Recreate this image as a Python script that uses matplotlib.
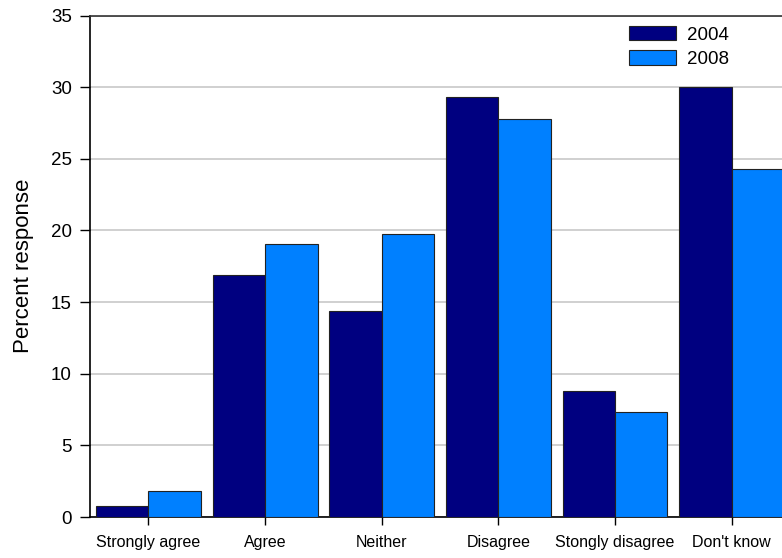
import numpy as np
import matplotlib
matplotlib.use("Agg")
import matplotlib.pyplot as plt

plt.rcParams['font.family'] = ['Liberation Sans', 'DejaVu Sans']

# data
categories = ["Strongly agree", "Agree", "Neither", "Disagree", "Stongly disagree", "Don't know"]
years = ["2004", "2008"]
vals_2004 = [0.75, 16.9, 14.4, 29.3, 8.8, 30.0]
vals_2008 = [1.8, 19.05, 19.75, 27.8, 7.35, 24.3]
y_ticks = [0, 5, 10, 15, 20, 25, 30, 35]

colors = ["#000080", "#0080ff"]

W, H = 782, 558
fig = plt.figure(figsize=(W / 100, H / 100), dpi=100)
# axes runs a bit past the right edge of the picture, like the original
ax = fig.add_axes([90 / W, (H - 517) / H, 700 / W, (517 - 15.5) / H])

x = np.arange(len(categories))
bw = 0.45
ax.bar(x - bw / 2, vals_2004, bw, color=colors[0], edgecolor="#222222",
       linewidth=0.8, label=years[0], zorder=3)
ax.bar(x + bw / 2, vals_2008, bw, color=colors[1], edgecolor="#222222",
       linewidth=0.8, label=years[1], zorder=3)

ax.set_xlim(-0.5, 5.5)
ax.set_ylim(0, 35)
ax.set_yticks(y_ticks)
ax.set_xticks(x)
ax.set_xticklabels(categories, fontsize=11.5)
ax.tick_params(axis='y', labelsize=13.5, length=7, width=1, pad=6)
ax.tick_params(axis='x', length=6, width=1, pad=7)
ax.yaxis.grid(True, color="#c8c8c8", linewidth=1.2, zorder=0)
ax.set_axisbelow(True)
ax.set_ylabel("Percent response", fontsize=16, labelpad=12)

for s in ["left", "bottom", "top"]:
    ax.spines[s].set_linewidth(1.2)
    ax.spines[s].set_color("black")
ax.spines["top"].set_color("#333333")
ax.spines["right"].set_visible(False)

leg = fig.legend(loc="upper left", bbox_to_anchor=(629 / W, 1 - 26 / H),
                 frameon=False, fontsize=13.5, handlelength=2.5,
                 handleheight=0.8, handletextpad=0.6, labelspacing=0.35,
                 borderpad=0, borderaxespad=0)

fig.savefig("out.png", dpi=100)
